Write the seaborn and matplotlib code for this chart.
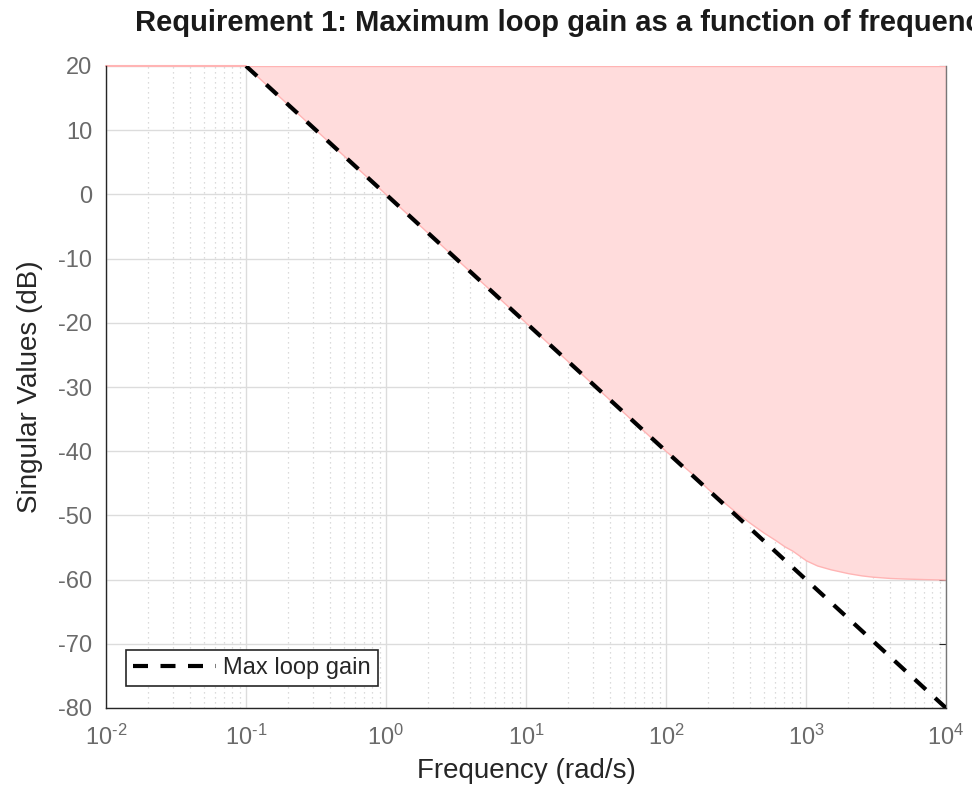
import numpy as np
import pandas as pd
import matplotlib
matplotlib.use("Agg")
import matplotlib.pyplot as plt
import seaborn as sns
from matplotlib.ticker import LogLocator, FixedLocator

# values
gain_freq = [0.1, 1, 10, 100, 1000, 10000]
gain_db = [20, 0, -20, -40, -60, -80]

bound_freq = [0.1, 1, 10, 50, 100, 150, 200, 300, 400, 500, 600, 700, 800, 1000, 1200,
              1500, 2000, 2500, 3000, 4000, 5000, 7000, 10000]
bound_db = [20, 0, -20, -34.0, -40.0, -43.3, -45.9, -49.1, -51.2, -52.7, -53.8, -54.8,
            -55.5, -57.0, -57.8, -58.4, -59.0, -59.35, -59.55, -59.75, -59.83, -59.92, -60.0]

yticks = [-80, -70, -60, -50, -40, -30, -20, -10, 0, 10, 20]
xticks = [1e-2, 1e-1, 1e0, 1e1, 1e2, 1e3, 1e4]
xtick_labels = [r"$10^{\text{-2}}$", r"$10^{\text{-1}}$", r"$10^{0}$", r"$10^{1}$",
                r"$10^{2}$", r"$10^{3}$", r"$10^{4}$"]

sns.set_style("white")
plt.rcParams["font.family"] = ["Liberation Sans", "DejaVu Sans"]
plt.rcParams["mathtext.fontset"] = "custom"
plt.rcParams["mathtext.rm"] = "Liberation Sans"
plt.rcParams["mathtext.default"] = "regular"
plt.rcParams["axes.unicode_minus"] = False

fig = plt.figure(figsize=(9.72, 7.88), dpi=100)
ax = fig.add_axes([106 / 972, 1 - 708 / 788, 840 / 972, 642 / 788])

pink_face = "#ffdcdc"
pink_edge = "#ffb4b4"

# shaded forbidden region above the boundary
ax.fill_between(bound_freq, bound_db, 20, facecolor=pink_face, edgecolor=pink_edge, lw=1, zorder=1)
ax.plot([1e-2, 0.1], [20, 20], color=pink_edge, lw=1.5, zorder=1, clip_on=False)

gdf = pd.DataFrame({"freq": gain_freq, "db": gain_db})
sns.lineplot(data=gdf, x="freq", y="db", ax=ax, color="black", lw=3,
             label="Max loop gain", zorder=3)
ax.lines[-1].set_dashes([3.6, 3.0])

ax.set_xscale("log")
ax.set_xlim(1e-2, 1e4)
ax.set_ylim(-80, 20)
ax.xaxis.set_major_locator(FixedLocator(xticks))
ax.xaxis.set_minor_locator(LogLocator(base=10, subs=np.arange(2, 10), numticks=20))
ax.set_xticks(xticks)
ax.set_xticklabels(xtick_labels)
ax.set_yticks(yticks)

ax.grid(True, which="major", color="#dcdcdc", lw=1, ls="-", zorder=0)
ax.grid(True, which="minor", axis="x", color="#d0d0d0", lw=0.9, ls=(0, (1, 3)), zorder=0)
ax.set_axisbelow(True)

for s in ["left", "bottom"]:
    ax.spines[s].set_color("#262626")
    ax.spines[s].set_linewidth(1)
ax.spines["top"].set_visible(False)
ax.spines["right"].set_color("#777777")
ax.spines["right"].set_linewidth(1)

ax.tick_params(axis="both", which="major", direction="in", length=5, width=0.8,
               colors="#262626", labelcolor="#6a6a6a", labelsize=17)
ax.tick_params(axis="y", which="major", pad=10)
ax.tick_params(axis="x", which="major", pad=12)
ax.tick_params(axis="x", which="minor", direction="in", length=3, width=0.6, colors="#262626")
ax.tick_params(axis="y", which="both", right=True)

ax.set_xlabel("Frequency (rad/s)", fontsize=20, color="#262626", labelpad=6)
ax.set_ylabel("Singular Values (dB)", fontsize=20, color="#262626")
ax.yaxis.set_label_coords(-63 / 840, 0.5)
# the title runs past the right edge in the original as well
fig.text(135 / 972, 1 - 31 / 788, "Requirement 1: Maximum loop gain as a function of frequency",
         fontsize=21, fontweight="bold", color="#1a1a1a", ha="left", va="baseline")

leg = ax.legend(loc="lower left", bbox_to_anchor=(20 / 840, 22 / 642), fontsize=17, frameon=True,
                fancybox=False, handlelength=3.5, borderpad=0.3, handletextpad=0.3,
                borderaxespad=0)
leg.get_frame().set_edgecolor("#262626")
leg.get_frame().set_linewidth(1.2)
leg.get_frame().set_alpha(1)

fig.savefig("out.png", dpi=100)
